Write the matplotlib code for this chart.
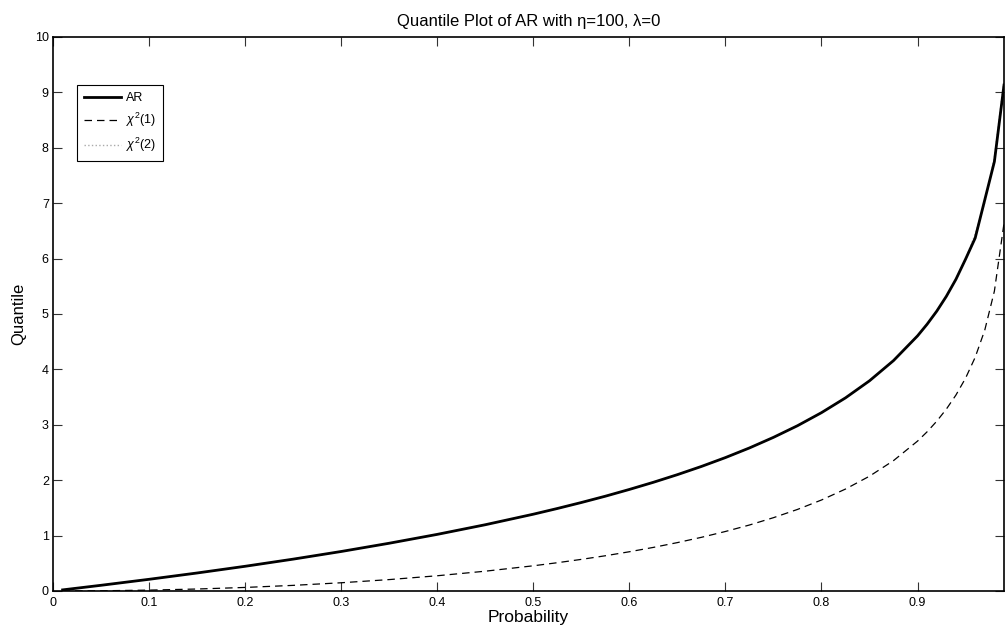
import numpy as np
import matplotlib
matplotlib.use('Agg')
import matplotlib.pyplot as plt

plt.rcParams['font.family'] = ['Liberation Sans', 'DejaVu Sans']
plt.rcParams['mathtext.fontset'] = 'custom'
plt.rcParams['mathtext.rm'] = 'Liberation Sans'
plt.rcParams['mathtext.it'] = 'Liberation Sans:italic'

prob = [0.01, 0.05, 0.10, 0.15, 0.20, 0.25, 0.30, 0.35, 0.40, 0.45, 0.50,
        0.525, 0.55, 0.575, 0.60, 0.625, 0.65, 0.675, 0.70, 0.725, 0.75,
        0.775, 0.80, 0.825, 0.85, 0.875, 0.90, 0.91, 0.92, 0.93, 0.94,
        0.95, 0.96, 0.97, 0.98, 0.99]
q_ar = [0.020, 0.103, 0.211, 0.325, 0.446, 0.575, 0.713, 0.862, 1.022, 1.196,
        1.386, 1.489, 1.597, 1.711, 1.833, 1.962, 2.100, 2.248, 2.408, 2.582,
        2.773, 2.983, 3.219, 3.486, 3.794, 4.159, 4.605, 4.816, 5.051, 5.319,
        5.627, 5.990, 6.370, 7.060, 7.750, 9.130]
q_chi1 = [0.0002, 0.0039, 0.0158, 0.0358, 0.0642, 0.1015, 0.1485, 0.2059,
          0.2750, 0.3573, 0.4549, 0.5104, 0.5707, 0.6360, 0.7083, 0.7870,
          0.8735, 0.9687, 1.0742, 1.1910, 1.3233, 1.4720, 1.6424, 1.8400,
          2.0723, 2.3535, 2.7055, 2.8740, 3.0649, 3.2830, 3.5374, 3.8415,
          4.2179, 4.7093, 5.4119, 6.6349]
q_chi2 = [0.020, 0.103, 0.211, 0.325, 0.446, 0.575, 0.713, 0.862, 1.022, 1.196,
          1.386, 1.489, 1.597, 1.711, 1.833, 1.962, 2.100, 2.248, 2.408, 2.582,
          2.773, 2.983, 3.219, 3.486, 3.794, 4.159, 4.605, 4.816, 5.051, 5.319,
          5.627, 5.991, 6.438, 7.013, 7.824, 9.210]

fig = plt.figure(figsize=(10.06, 6.31), dpi=100)
ax = fig.add_axes([0.0527, 0.0634, 0.9453, 0.878])

ax.plot(prob, q_chi2, color='#aaaaaa', linestyle=':', linewidth=1.0,
        label=r'$\chi^2$(2)', zorder=1)
ax.plot(prob, q_chi1, color='black', linestyle=(0, (6, 4)), linewidth=0.9,
        label=r'$\chi^2$(1)', zorder=2)
ax.plot(prob, q_ar, color='black', linewidth=2.0, label='AR', zorder=3)

ax.set_xlim(0, 0.99)
ax.set_ylim(0, 10)
ax.set_xticks(np.arange(0, 1.0, 0.1))
ax.set_xticklabels(['0', '0.1', '0.2', '0.3', '0.4', '0.5', '0.6', '0.7', '0.8', '0.9'])
ax.set_yticks(range(0, 11))
ax.tick_params(direction='in', length=6.5, width=0.8, labelsize=9,
               top=True, right=True, color='#333333')
ax.tick_params(axis='x', pad=4)
ax.tick_params(axis='y', pad=3)
for s in ax.spines.values():
    s.set_linewidth(1.2)
    s.set_color('black')

ax.set_xlabel('Probability', fontsize=12.5, labelpad=1)
ax.set_ylabel('Quantile', fontsize=12, labelpad=6)
ax.set_title('Quantile Plot of AR with \u03b7=100, \u03bb=0', fontsize=12, pad=8)

h, l = ax.get_legend_handles_labels()
leg = ax.legend(h[::-1], l[::-1], loc='upper left', bbox_to_anchor=(0.0252, 0.913),
                fontsize=9, fancybox=False, edgecolor='black', framealpha=1,
                handlelength=3.0, handletextpad=0.35, borderpad=0.55,
                labelspacing=0.55, borderaxespad=0)
leg.get_frame().set_linewidth(0.8)

fig.savefig('out.png', dpi=100)
